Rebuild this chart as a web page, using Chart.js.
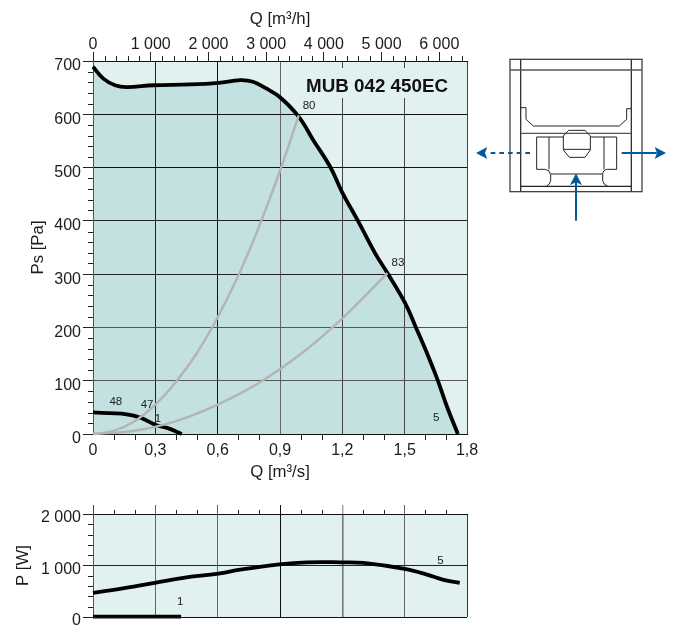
<!DOCTYPE html>
<html><head><meta charset="utf-8">
<script src="https://cdn.jsdelivr.net/npm/chart.js@4"></script>
<style>
html,body{margin:0;padding:0;background:#fff;width:675px;height:625px;overflow:hidden}
#wrap{position:relative;width:675px;height:625px;overflow:hidden}
canvas{position:absolute;left:0}
#c1{top:0}#c2{top:490px}
svg{position:absolute;left:0;top:0}
</style></head><body>
<div id="wrap">
<canvas id="c1" width="675" height="490"></canvas>
<canvas id="c2" width="675" height="150"></canvas>
<svg width="675" height="625" viewBox="0 0 675 625">
 <g transform="translate(470,50) scale(0.33333)" fill="none" stroke="#222" stroke-width="3">
  <rect x="120" y="28" width="396" height="397" stroke="#444" stroke-width="4"/>
  <path d="M152 28V425M484 28V425" stroke="#333" stroke-width="4"/>
  <path d="M120 60H516" stroke="#555" stroke-width="4"/>
  <path d="M152 250H484" stroke="#555" stroke-width="4"/>
  <path d="M152 409H484" stroke-width="4"/>
  <path d="M152 173H168V208L190 228H448L470 208V176H484"/>
  <path d="M280 261H200V358H226Q240 360 242 374V392Q240 404 230 408"/>
  <path d="M362 261H440V358H412Q398 360 398 374V392Q400 404 412 408"/>
  <path d="M237 261V358M402 261V358M242 372H398"/>
  <path d="M280 298V258L296 241H345L361 258V300L345 322H298L280 300Z M280 298H361"/>
 </g>
 <g transform="translate(470,50) scale(0.33333)" fill="#005a9c" stroke="none">
  <path d="M18 309L52 291L45 309L52 327Z"/>
  <path d="M588 309L554 291L561 309L554 327Z"/>
  <path d="M318 370L300 405L318 397L336 405Z"/>
  <path d="M180 309H50" stroke="#005a9c" stroke-width="6" stroke-dasharray="14 12" fill="none"/>
  <path d="M455 309H560" stroke="#005a9c" stroke-width="6" fill="none"/>
  <path d="M318 512V395" stroke="#005a9c" stroke-width="6" fill="none"/>
 </g>
</svg>
</div>
<script>
// ---------- data ----------
const fanQ   = [0,0.05,0.106,0.162,0.29,0.467,0.604,0.708,0.77,0.836,0.90,0.989,1.061,1.142,1.198,1.278,1.358,1.417,1.503,1.554,1.607,1.658,1.703,1.756];
const fanPs  = [689,667,654.5,651,654.5,656,659,664,661,648,632,596,551,501,454.6,398,339,302,245,200,152,102,52,0];
const lowQ   = [0,0.08,0.162,0.226,0.30,0.36,0.427];
const lowPs  = [40.5,39,37,31,17.4,11,0];
const sysAQ  = [0,0.1,0.2,0.3,0.4,0.5,0.6,0.7,0.8,0.9,0.99];
const sysAPs = [0,6,24,55,98,152,219,298,390,494,598];
const sysBQ  = [0,0.2,0.4,0.6,0.8,1.0,1.2,1.417];
const sysBPs = [0,6,24,55,96,150,217,302];
const powQ   = [0,0.15,0.298,0.435,0.604,0.708,0.897,1.028,1.193,1.302,1.50,1.607,1.687,1.765];
const powP   = [470,560,663,760,843,920,1023,1062,1062,1050,934,824,721,663];
const lowPowQ= [0,0.2,0.424];
const lowPowP= [8,8,8];
// tick values and labels
const qTicks   = [0,0.3,0.6,0.9,1.2,1.5,1.8];
const qLabels  = ['0','0,3','0,6','0,9','1,2','1,5','1,8'];
const qMinor   = [0.1,0.2,0.4,0.5,0.7,0.8,1.0,1.1,1.3,1.4,1.6,1.7];
const hTicks   = [0,1000,2000,3000,4000,5000,6000];
const hLabels  = ['0','1 000','2 000','3 000','4 000','5 000','6 000'];
const hMinor   = [200,400,600,800,1200,1400,1600,1800,2200,2400,2600,2800,3200,3400,3600,3800,4200,4400,4600,4800,5200,5400,5600,5800,6200,6400];
const psTicks  = [0,100,200,300,400,500,600,700];
const psMinor  = [20,40,60,80,120,140,160,180,220,240,260,280,320,340,360,380,420,440,460,480,520,540,560,580,620,640,660,680];
const pTicks   = [0,1000,2000];
const pLabels  = ['0','1 000','2 000'];
const pMinor   = [200,400,600,800,1200,1400,1600,1800];
// curve annotations
const noteText = ['80','83','5','48','47','1'];
const noteQ    = [1.04,1.468,1.652,0.11,0.26,0.312];
const notePs   = [615,322,30,60,55,29];
const pNoteText= ['1','5'];
const pNoteQ   = [0.42,1.672];
const pNoteP   = [285,1100];
const chartName= 'MUB 042 450EC';
// ---------- styles ----------
const FONT = '"Liberation Sans", Arial, sans-serif';
const INK = '#1c1c1c', LIGHT = '#e0f1ef', SHADE = '#c2e1e0', GRAY = '#b4b4b4';
const vGrid1 = ['#333','#222','#111','#666','#444','#444','#444'];
const hGrid1 = ['#111','#555','#555','#222','#222','#111','#111','#111'];
const vGrid2 = ['#444','#666','#666','#111','#777','#666','#333'];
const pts = (xs,ys)=>xs.map((x,i)=>({x,y:ys[i]}));
const setTicks = (vals)=>(s)=>{s.ticks = vals.map(v=>({value:v}));};
const fit = (w,h)=>(s)=>{ if(w!==null)s.width=w; if(h!==null)s.height=h;
  s.paddingLeft=s.paddingRight=s.paddingTop=s.paddingBottom=0; };
const lineDs = (data,color,width,extra)=>Object.assign({data,borderColor:color,borderWidth:width,pointRadius:0,
  tension:0.4,fill:false,clip:false,borderCapStyle:'butt'},extra||{});

function minorTicks(ctx,scale,vals,len){
  ctx.save();ctx.strokeStyle='#222';ctx.lineWidth=1;ctx.beginPath();
  vals.forEach(v=>{
    const p=Math.round(scale.getPixelForValue(v))+0.5;
    if(scale.position==='left'){ctx.moveTo(scale.right-len,p);ctx.lineTo(scale.right,p);}
    else if(scale.position==='top'){ctx.moveTo(p,scale.bottom-len);ctx.lineTo(p,scale.bottom);}
    else {ctx.moveTo(p,scale.top);ctx.lineTo(p,scale.top+len);}
  });
  ctx.stroke();ctx.restore();
}
const plotBack = {id:'plotBack',beforeDraw(c){
  const a=c.chartArea,x=c.ctx;x.save();x.globalCompositeOperation='destination-over';
  x.fillStyle=LIGHT;x.fillRect(a.left,a.top,a.width,a.height);x.restore();}};
function notes(ctx,sx,sy,txt,xs,ys){
  ctx.save();ctx.font='11.5px '+FONT;ctx.fillStyle='#222';ctx.textAlign='center';ctx.textBaseline='middle';
  txt.forEach((t,i)=>ctx.fillText(t,sx.getPixelForValue(xs[i]),sy.getPixelForValue(ys[i])));ctx.restore();
}
const font16={family:FONT,size:16};
const font17={family:FONT,size:16.8};

new Chart(document.getElementById('c1'),{
  type:'line',
  data:{datasets:[
    lineDs(pts(sysAQ,sysAPs),GRAY,2.4),
    lineDs(pts(sysBQ,sysBPs),GRAY,2.4),
    lineDs(pts(lowQ,lowPs),'#000',3.8),
    lineDs(pts(fanQ,fanPs),'#000',3.8,{fill:'origin',backgroundColor:SHADE})
  ]},
  options:{responsive:false,animation:false,events:[],
    layout:{padding:{left:0,right:208,top:0,bottom:0}},
    plugins:{legend:{display:false},tooltip:{enabled:false},filler:{drawTime:'beforeDraw'}},
    scales:{
      x:{type:'linear',position:'bottom',min:0,max:1.8,afterBuildTicks:setTicks(qTicks),afterFit:fit(null,56),
        title:{display:true,text:'Q [m³/s]',font:font17,color:INK,padding:{top:0,bottom:8}},
        ticks:{font:font16,color:INK,padding:7,autoSkip:false,maxRotation:0,callback:(v,i)=>qLabels[i]},
        grid:{drawTicks:false,color:c=>vGrid1[c.index]||'#333',lineWidth:1},border:{color:'#111'}},
      x2:{type:'linear',position:'top',min:0,max:6480,afterBuildTicks:setTicks(hTicks),afterFit:fit(null,61),
        title:{display:true,text:'Q [m³/h]',font:font17,color:INK,padding:{top:9,bottom:0}},
        ticks:{font:font16,color:INK,padding:-2,autoSkip:false,maxRotation:0,callback:(v,i)=>hLabels[i]},
        grid:{drawOnChartArea:false,tickLength:9,tickColor:'#222'},border:{color:'#111'}},
      y:{type:'linear',position:'left',min:0,max:700,afterBuildTicks:setTicks(psTicks),afterFit:fit(93,null),
        title:{display:true,text:'Ps [Pa]',font:font17,color:INK,padding:{top:28,bottom:0}},
        ticks:{font:font16,color:INK,padding:2,labelOffset:5,autoSkip:false,callback:(v)=>String(v)},
        grid:{tickLength:10,tickColor:'#222',color:c=>hGrid1[c.index]||'#222',lineWidth:1},border:{color:'#555'}}
    }
  },
  plugins:[plotBack,{id:'extras1',afterDraw(c){
    const x=c.ctx,s=c.scales;
    minorTicks(x,s.y,psMinor,5);minorTicks(x,s.x,qMinor,6);minorTicks(x,s.x2,hMinor,5);
    notes(x,s.x,s.y,noteText,noteQ,notePs);
    x.save();x.fillStyle=LIGHT;x.fillRect(303,68,150,30);
    x.font='bold 18.8px '+FONT;x.fillStyle='#111';x.textAlign='center';x.textBaseline='middle';
    x.fillText(chartName,377,87);x.restore();
  }}]
});

new Chart(document.getElementById('c2'),{
  type:'line',
  data:{datasets:[
    lineDs(pts(lowPowQ,lowPowP),'#000',3.8),
    lineDs(pts(powQ,powP),'#000',3.8)
  ]},
  options:{responsive:false,animation:false,events:[],
    layout:{padding:{left:0,right:208,top:0,bottom:23}},
    plugins:{legend:{display:false},tooltip:{enabled:false}},
    scales:{
      x:{type:'linear',position:'top',min:0,max:1.8,afterBuildTicks:setTicks(qTicks),afterFit:fit(null,24),
        ticks:{display:false},
        grid:{tickLength:9,tickColor:c=>c.index===6?'rgba(0,0,0,0)':vGrid2[c.index],color:c=>vGrid2[c.index]||'#444',
              lineWidth:c=>(c.index===4?1.6:1),tickWidth:1},border:{color:'#111'}},
      y:{type:'linear',position:'left',min:0,max:2000,afterBuildTicks:setTicks(pTicks),afterFit:fit(93,null),
        title:{display:true,text:'P [W]',font:font17,color:INK,padding:{top:13,bottom:0}},
        ticks:{font:font16,color:INK,padding:2,labelOffset:4,autoSkip:false,callback:(v,i)=>pLabels[i]},
        grid:{tickLength:10,tickColor:'#222',color:'#222',lineWidth:1},border:{color:'#555'}}
    }
  },
  plugins:[plotBack,{id:'extras2',afterDraw(c){
    const x=c.ctx,s=c.scales;
    minorTicks(x,s.y,pMinor,5);minorTicks(x,s.x,qMinor,4);
    notes(x,s.x,s.y,pNoteText,pNoteQ,pNoteP);
    const a=c.chartArea;x.save();x.strokeStyle='#111';x.lineWidth=1;x.beginPath();
    x.moveTo(a.left,a.bottom+0.5);x.lineTo(a.right,a.bottom+0.5);x.stroke();x.restore();
  }}]
});
</script>
</body></html>
